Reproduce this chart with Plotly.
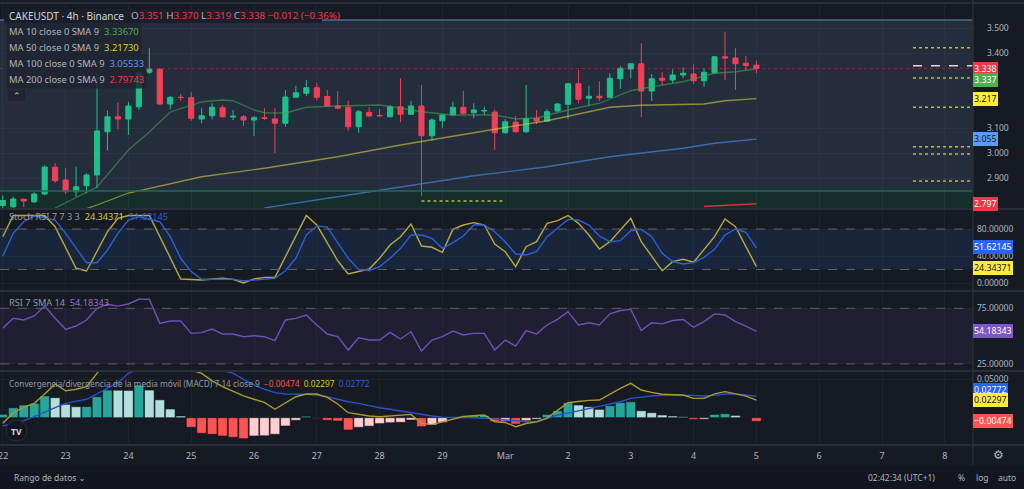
import pandas as pd
import plotly.graph_objects as go
from plotly.subplots import make_subplots

W, H = 1024, 489
FONT = "Noto Sans, DejaVu Sans, sans-serif"

# ---------------- data ----------------
start_time = pd.Timestamp("2024-02-22 00:00")
n_candles = 73
candle_hours = 4

opens = [2.790, 2.785, 2.815, 2.805, 2.836, 2.943, 2.892, 2.845, 2.869, 2.912,
         3.085, 3.145, 3.136, 3.185, 3.323, 3.335, 3.196, 3.223, 3.221, 3.136,
         3.149, 3.181, 3.144, 3.145, 3.132, 3.141, 3.136, 3.119, 3.223, 3.239,
         3.261, 3.226, 3.188, 3.183, 3.105, 3.163, 3.150, 3.145, 3.185, 3.155,
         3.188, 3.069, 3.129, 3.152, 3.183, 3.161, 3.168, 3.164, 3.081, 3.124,
         3.085, 3.139, 3.128, 3.168, 3.195, 3.277, 3.219, 3.227, 3.223, 3.297,
         3.336, 3.357, 3.248, 3.299, 3.292, 3.312, 3.316, 3.289, 3.321, 3.385,
         3.380, 3.359, 3.351]
highs = [2.830, 2.825, 2.818, 2.843, 2.951, 2.959, 2.939, 2.945, 2.919, 3.319,
         3.169, 3.201, 3.205, 3.332, 3.421, 3.340, 3.228, 3.236, 3.245, 3.179,
         3.199, 3.192, 3.172, 3.152, 3.148, 3.179, 3.179, 3.252, 3.269, 3.292,
         3.281, 3.252, 3.248, 3.209, 3.172, 3.183, 3.175, 3.192, 3.299, 3.209,
         3.272, 3.139, 3.156, 3.205, 3.249, 3.199, 3.185, 3.175, 3.136, 3.149,
         3.272, 3.172, 3.175, 3.199, 3.280, 3.332, 3.269, 3.288, 3.319, 3.348,
         3.360, 3.439, 3.316, 3.323, 3.335, 3.343, 3.355, 3.339, 3.387, 3.485,
         3.419, 3.388, 3.370]
lows = [2.780, 2.780, 2.784, 2.800, 2.830, 2.881, 2.836, 2.825, 2.839, 2.859,
        3.009, 3.095, 3.072, 3.172, 3.316, 3.192, 3.175, 3.209, 3.129, 3.119,
        3.135, 3.142, 3.132, 3.108, 3.068, 3.132, 2.999, 3.105, 3.220, 3.228,
        3.212, 3.186, 3.175, 3.089, 3.081, 3.146, 3.145, 3.143, 3.123, 3.152,
        2.829, 3.049, 3.101, 3.150, 3.155, 3.139, 3.152, 3.012, 3.078, 3.082,
        3.081, 3.116, 3.125, 3.165, 3.135, 3.199, 3.188, 3.209, 3.220, 3.256,
        3.299, 3.143, 3.208, 3.272, 3.279, 3.299, 3.275, 3.265, 3.318, 3.292,
        3.252, 3.329, 3.319]
closes = [2.810, 2.816, 2.808, 2.836, 2.944, 2.889, 2.845, 2.865, 2.912, 3.088,
          3.145, 3.136, 3.188, 3.323, 3.335, 3.196, 3.223, 3.222, 3.139, 3.149,
          3.183, 3.145, 3.147, 3.132, 3.141, 3.138, 3.119, 3.224, 3.241, 3.261,
          3.223, 3.188, 3.179, 3.105, 3.165, 3.148, 3.149, 3.185, 3.155, 3.188,
          3.069, 3.132, 3.152, 3.183, 3.159, 3.172, 3.170, 3.081, 3.125, 3.085,
          3.137, 3.128, 3.165, 3.196, 3.277, 3.215, 3.227, 3.221, 3.299, 3.339,
          3.357, 3.248, 3.297, 3.291, 3.312, 3.319, 3.289, 3.323, 3.385, 3.380,
          3.357, 3.350, 3.338]

ma10_idx = [5, 9, 12, 14, 16, 19, 21, 22, 24, 25, 27, 29, 32, 36, 38, 40, 43, 47,
            49, 51, 54, 57, 60, 62, 65, 68, 70, 72]
ma10_val = [2.780, 2.864, 3.012, 3.084, 3.164, 3.204, 3.212, 3.209, 3.172, 3.161,
            3.160, 3.183, 3.188, 3.192, 3.180, 3.165, 3.152, 3.152, 3.136, 3.140,
            3.172, 3.199, 3.249, 3.265, 3.285, 3.319, 3.325, 3.33670]
ma50_idx = [8, 9, 12, 19, 25, 32, 38, 44, 47, 52, 55, 58, 61, 67, 69, 72]
ma50_val = [2.778, 2.792, 2.840, 2.905, 2.939, 2.985, 3.032, 3.072, 3.095, 3.129,
            3.156, 3.183, 3.191, 3.196, 3.209, 3.21730]
ma100_idx = [25, 32, 38, 45, 52, 58, 65, 68, 72]
ma100_val = [2.780, 2.825, 2.865, 2.909, 2.945, 2.985, 3.019, 3.039, 3.05533]
ma200_idx = [67, 72]
ma200_val = [2.786, 2.79743]

stoch_k_idx = [0, 1, 4, 5, 7, 8, 10, 11, 12, 14, 17, 19, 21, 22, 23, 24, 25, 26,
               29, 30, 32, 33, 35, 36, 37, 38, 39, 40, 41, 42, 43, 44, 45, 46, 47,
               48, 49, 50, 51, 52, 53, 54, 55, 56, 57, 58, 60, 61, 63, 64, 65, 66,
               68, 69, 70, 72]
stoch_k_val = [68.6, 100, 100, 83.4, 21.8, 17.8, 76.0, 95.8, 100, 100, 6.0, 4.4,
               7.0, 5.4, 0.0, 6.0, 8.4, 8.4, 100, 85.9, 33.0, 13.3, 20.7, 36.6,
               56.3, 68.6, 87.4, 54.8, 52.9, 45.5, 79.5, 85.9, 89.4, 85.9, 57.8,
               46.4, 24.2, 53.8, 61.2, 88.4, 92.3, 100, 88.4, 71.1, 50.4, 61.2,
               95.8, 61.2, 18.2, 31.6, 35.1, 30.7, 68.6, 94.8, 83.4, 24.34371]
stoch_d_idx = [0, 1, 2, 3, 5, 6, 8, 9, 10, 11, 12, 13, 15, 16, 17, 18, 19, 22, 23,
               25, 26, 27, 28, 29, 30, 31, 33, 34, 35, 36, 37, 38, 39, 40, 41, 42,
               43, 44, 45, 46, 47, 48, 49, 50, 51, 52, 53, 54, 55, 56, 57, 58, 59,
               60, 61, 62, 63, 64, 65, 66, 67, 68, 69, 70, 71, 72]
stoch_d_val = [40.0, 73.6, 90.8, 99.3, 93.3, 73.6, 30.1, 30.1, 48.9, 73.6, 93.3,
               98.0, 90.8, 68.6, 36.6, 16.9, 5.5, 5.5, 3.0, 6.0, 7.0, 18.2, 36.6,
               71.1, 84.4, 82.9, 36.6, 20.2, 18.2, 24.2, 36.6, 51.4, 71.1, 71.1,
               66.2, 51.4, 59.7, 69.6, 85.9, 85.9, 76.0, 61.2, 43.0, 41.5, 46.4,
               68.6, 81.0, 94.3, 93.3, 85.9, 69.6, 61.2, 62.7, 77.5, 79.5, 68.6,
               44.0, 31.6, 28.1, 30.1, 38.0, 49.9, 71.1, 80.0, 75.1, 51.62145]

rsi_val = [57.0, 66.0, 64.5, 68.1, 77.0, 66.0, 56.1, 59.1, 64.5, 75.0,
           78.6, 77.0, 78.9, 83.1, 83.1, 61.5, 63.6, 63.6, 52.5, 53.1,
           56.4, 51.9, 51.9, 49.5, 50.4, 49.5, 45.9, 64.5, 66.0, 69.0,
           60.0, 51.9, 49.5, 37.5, 48.6, 46.5, 46.5, 53.4, 47.4, 54.0,
           36.6, 46.5, 49.5, 54.6, 51.0, 52.5, 52.5, 37.5, 46.5, 41.1,
           55.0, 52.0, 60.0, 65.0, 72.0, 60.0, 62.0, 60.0, 70.0, 73.0,
           74.0, 55.0, 62.0, 61.0, 64.0, 65.0, 58.0, 63.0, 70.0, 69.0,
           63.0, 59.0, 54.18343]

macd_val = [-0.0073, 0.0065, 0.0135, 0.0187, 0.0309, 0.0439, 0.0350, 0.0370, 0.0404, 0.0580,
            0.0750, 0.0810, 0.0930, 0.1050, 0.1040, 0.0940, 0.0830, 0.0780, 0.0620, 0.0578,
            0.0480, 0.0404, 0.0339, 0.0283, 0.0240, 0.0200, 0.0110, 0.0187, 0.0273, 0.0309,
            0.0309, 0.0265, 0.0178, 0.0065, 0.0044, 0.0022, 0.0013, 0.0026, 0.0035, 0.0043,
            -0.0073, -0.0090, -0.0055, -0.0020, 0.0015, 0.0026, 0.0035, -0.0052, -0.0062, -0.0117,
            -0.0075, -0.0055, -0.0005, 0.0095, 0.0195, 0.0210, 0.0225, 0.0230, 0.0310, 0.0383,
            0.0448, 0.0360, 0.0330, 0.0305, 0.0300, 0.0296, 0.0252, 0.0252, 0.0310, 0.0339,
            0.0310, 0.0280, 0.02297]
signal_val = [-0.0108, -0.0070, -0.0040, 0.0015, 0.0078, 0.0130, 0.0187, 0.0210, 0.0240, 0.0309,
              0.0383, 0.0456, 0.0578, 0.0630, 0.0680, 0.0710, 0.0720, 0.0720, 0.0700, 0.0670,
              0.0640, 0.0610, 0.0580, 0.0500, 0.0426, 0.0370, 0.0326, 0.0309, 0.0309, 0.0305,
              0.0296, 0.0273, 0.0240, 0.0208, 0.0187, 0.0156, 0.0130, 0.0110, 0.0087, 0.0065,
              0.0045, 0.0022, 0.0005, 0.0005, 0.0003, 0.0000, -0.0008, -0.0015, -0.0030, -0.0040,
              -0.0052, -0.0052, -0.0008, 0.0035, 0.0060, 0.0091, 0.0120, 0.0143, 0.0175, 0.0208,
              0.0252, 0.0270, 0.0283, 0.0290, 0.0293, 0.0296, 0.0290, 0.0283, 0.0290, 0.0309,
              0.0309, 0.0295, 0.02772]
hist_val = [0.0044, 0.0130, 0.0165, 0.0187, 0.0283, 0.0260, 0.0174, 0.0143, 0.0145, 0.0273,
            0.0360, 0.0358, 0.0355, 0.0425, 0.0360, 0.0233, 0.0113, 0.0022, -0.0125, -0.0203,
            -0.0216, -0.0238, -0.0255, -0.0273, -0.0238, -0.0235, -0.0216, -0.0108, -0.0034, 0.0020,
            -0.0009, -0.0034, -0.0043, -0.0160, -0.0125, -0.0110, -0.0077, -0.0065, -0.0060, -0.0030,
            -0.0117, -0.0095, -0.0060, -0.0005, 0.0013, 0.0026, 0.0030, -0.0052, -0.0048, -0.0082,
            -0.0039, -0.0020, 0.0043, 0.0090, 0.0195, 0.0165, 0.0143, 0.0109, 0.0156, 0.0195,
            0.0208, 0.0090, 0.0065, 0.0035, 0.0022, 0.0013, -0.0022, -0.0020, 0.0043, 0.0052,
            0.0030, -0.0005, -0.00474]

day_labels = ["22", "23", "24", "25", "26", "27", "28", "29", "Mar", "2", "3", "4", "5", "6", "7", "8"]
price_ticks = [2.9, 3.0, 3.1, 3.4, 3.5]
stoch_ticks = [0, 40, 80]
rsi_ticks = [25, 75]
macd_ticks = [0.05]
stoch_bands = [20, 80]
rsi_bands = [25, 75]

box_top = 3.532
box_split = 2.848
right_levels = [3.421, 3.300, 3.183, 3.025, 2.996, 2.888]
white_level = 3.349
low_level = 2.808
low_level_span = [40, 48]

# ---------------- helpers ----------------
times = [start_time + pd.Timedelta(hours=candle_hours * i) for i in range(n_candles)]
day_dates = [start_time + pd.Timedelta(days=d) for d in range(len(day_labels))]
day_px = 62.8
x0_px = 2.8
plot_right = 973
x_left = start_time - pd.Timedelta(days=x0_px / day_px)
x_right = start_time + pd.Timedelta(days=(plot_right - x0_px) / day_px)

def px(x):
    return x / W

def py(y):
    return 1 - y / H

UP, DOWN = "#1fbf8a", "#f23f58"

fig = make_subplots(rows=4, cols=1, shared_xaxes=True, vertical_spacing=0.01)

fig.add_trace(go.Candlestick(
    x=times, open=opens, high=highs, low=lows, close=closes,
    increasing=dict(line=dict(color=UP, width=1), fillcolor=UP),
    decreasing=dict(line=dict(color=DOWN, width=1), fillcolor=DOWN),
    whiskerwidth=0, hoverinfo="skip"), row=1, col=1)

def line(idx, vals, color, width, row):
    fig.add_trace(go.Scatter(x=[times[i] for i in idx], y=vals, mode="lines",
                             line=dict(color=color, width=width), hoverinfo="skip"),
                  row=row, col=1)

line(ma10_idx, ma10_val, "rgba(70,160,80,0.6)", 1.3, 1)
line(ma50_idx, ma50_val, "rgba(220,205,60,0.6)", 1.3, 1)
line(ma100_idx, ma100_val, "rgba(80,130,215,0.7)", 1.3, 1)
line(ma200_idx, ma200_val, "#d8303f", 1.5, 1)

line(stoch_k_idx, stoch_k_val, "#b9aa3e", 1.4, 2)
line(stoch_d_idx, stoch_d_val, "#2f5fd6", 1.4, 2)

line(list(range(n_candles)), rsi_val, "#6e50b8", 1.4, 3)

hist_colors = []
for i, v in enumerate(hist_val):
    prev = hist_val[i - 1] if i > 0 else v - 1
    if v >= 0:
        hist_colors.append("#26a69a" if v > prev else "#b2dfdb")
    else:
        hist_colors.append("#ffcdd2" if v > prev else "#ff5252")
fig.add_trace(go.Bar(x=times, y=hist_val, marker=dict(color=hist_colors,
                     line=dict(color="rgba(10,12,18,0.55)", width=1)),
                     width=candle_hours * 3600 * 1000 * 0.92, hoverinfo="skip"), row=4, col=1)
line(list(range(n_candles)), signal_val, "#2b50c8", 1.4, 4)
line(list(range(n_candles)), macd_val, "#ab9a30", 1.4, 4)

# ---------------- layout ----------------
BG = "#161a23"
GRID = "rgba(255,255,255,0.035)"
TICKC = "#b2b5be"
domains = [(4, 208), (210, 290), (292, 370), (372, 445)]
ranges = [[2.780, 3.596], [-10.37, 108.15], [19.56, 89.65], [-0.03555, 0.0595]]
tickv = [price_ticks, stoch_ticks, rsi_ticks, macd_ticks]
tickf = [".3f", ".5f", ".5f", ".5f"]
standoff = [13, 3, 3, 3]

layout = dict(width=W, height=H, margin=dict(l=0, r=0, t=0, b=0),
              paper_bgcolor=BG, plot_bgcolor=BG, showlegend=False,
              font=dict(family=FONT, color=TICKC), bargap=0)
for k in range(4):
    xa = "xaxis" if k == 0 else f"xaxis{k+1}"
    ya = "yaxis" if k == 0 else f"yaxis{k+1}"
    layout[xa] = dict(domain=[0, px(plot_right)], range=[x_left, x_right], type="date",
                      tickvals=day_dates, ticktext=day_labels, showgrid=True, gridcolor=GRID,
                      zeroline=False, showline=False, ticks="", ticklabelstandoff=4,
                      showticklabels=(k == 3), tickfont=dict(size=9, color=TICKC, family=FONT),
                      rangeslider=dict(visible=False), fixedrange=True)
    y0, y1 = domains[k]
    layout[ya] = dict(domain=[py(y1), py(y0)], range=ranges[k], side="right",
                      tickvals=tickv[k], tickformat=tickf[k], showgrid=True, gridcolor=GRID,
                      zeroline=False, showline=False, ticks="",
                      ticklabelstandoff=standoff[k],
                      tickfont=dict(size=8.5, color=TICKC, family=FONT), fixedrange=True)
fig.update_layout(**layout)

shapes = []
# main pane boxes
shapes.append(dict(type="rect", xref="x domain", yref="y", x0=0, x1=1, y0=box_split, y1=box_top,
                   fillcolor="#232d3c", line=dict(width=0), layer="below"))
shapes.append(dict(type="rect", xref="x domain", yref="y", x0=0, x1=1, y0=ranges[0][0], y1=box_split,
                   fillcolor="#162e2b", line=dict(width=0), layer="below"))
shapes.append(dict(type="line", xref="x domain", yref="y", x0=0, x1=1, y0=box_top, y1=box_top,
                   line=dict(color="#4e6b8a", width=1.5)))
shapes.append(dict(type="line", xref="x domain", yref="y", x0=0, x1=1, y0=box_split, y1=box_split,
                   line=dict(color="#1f6a5a", width=1.5)))
# price line
shapes.append(dict(type="line", xref="x domain", yref="y", x0=0, x1=1, y0=closes[-1], y1=closes[-1],
                   line=dict(color="rgba(242,54,69,0.5)", width=0.8, dash="dot")))
for lv in right_levels:
    shapes.append(dict(type="line", xref="x domain", yref="y", x0=913 / plot_right, x1=1, y0=lv, y1=lv,
                       line=dict(color="#c2b93c", width=1.5, dash="dot")))
shapes.append(dict(type="line", xref="x domain", yref="y", x0=913 / plot_right, x1=1,
                   y0=white_level, y1=white_level, line=dict(color="#d8dbe2", width=1.5, dash="dash")))
shapes.append(dict(type="line", xref="x", yref="y", x0=times[low_level_span[0]], x1=times[low_level_span[1]],
                   y0=low_level, y1=low_level, line=dict(color="#c2b93c", width=1.5, dash="dot")))
# oscillator bands
shapes.append(dict(type="rect", xref="x2 domain", yref="y2", x0=0, x1=1, y0=stoch_bands[0], y1=stoch_bands[1],
                   fillcolor="#18253a", line=dict(width=0), layer="below"))
shapes.append(dict(type="rect", xref="x3 domain", yref="y3", x0=0, x1=1, y0=rsi_bands[0], y1=rsi_bands[1],
                   fillcolor="#201e31", line=dict(width=0), layer="below"))
for b in stoch_bands:
    shapes.append(dict(type="line", xref="x2 domain", yref="y2", x0=0, x1=1, y0=b, y1=b,
                       line=dict(color="#5d606b", width=1, dash="dash")))
for b in rsi_bands:
    shapes.append(dict(type="line", xref="x3 domain", yref="y3", x0=0, x1=1, y0=b, y1=b,
                       line=dict(color="#5d606b", width=1, dash="dash")))
# separators
SEP = "#2a2e39"
for ys in [3, 209, 291, 371, 445]:
    shapes.append(dict(type="line", xref="paper", yref="paper", x0=0, x1=1, y0=py(ys), y1=py(ys),
                       line=dict(color=SEP, width=2)))
shapes.append(dict(type="line", xref="paper", yref="paper", x0=px(plot_right), x1=px(plot_right),
                   y0=py(465), y1=1, line=dict(color=SEP, width=1.5)))
shapes.append(dict(type="rect", xref="paper", yref="paper", x0=0, x1=1, y0=0, y1=py(466),
                   fillcolor="#13161e", line=dict(width=0)))
# header bg
shapes.append(dict(type="rect", xref="paper", yref="paper", x0=px(4), x1=px(322), y0=py(23), y1=py(9),
                   fillcolor="#1b1f29", line=dict(width=0)))
# button
shapes.append(dict(type="rect", xref="paper", yref="paper", x0=px(7), x1=px(26), y0=py(102), y1=py(89),
                   fillcolor="#1f2430", line=dict(color="#2e3340", width=1)))
# TV logo
shapes.append(dict(type="circle", xref="paper", yref="paper", x0=px(6), x1=px(27), y0=py(441), y1=py(420),
                   fillcolor="#131722", line=dict(color="#2a2e39", width=1)))
fig.update_layout(shapes=shapes)

ann = []

def txt(x, y, text, size, color=TICKC, **kw):
    d = dict(xref="paper", yref="paper", x=px(x), y=py(y), text=text, showarrow=False,
             xanchor="left", yanchor="middle", font=dict(size=size, color=color, family=FONT))
    d.update(kw)
    return d

def sp(color, s):
    return f'<span style="color:{color}">{s}</span>'

RED = "#f23645"
ann.append(txt(7, 16, "CAKEUSDT · 4h · Binance", 10, "#d1d4dc"))
chg = closes[-1] - closes[-2]
ohlc = (f"O{sp(RED, f'{opens[-1]:.3f}')} H{sp(RED, f'{highs[-1]:.3f}')} "
        f"L{sp(RED, f'{lows[-1]:.3f}')} C{sp(RED, f'{closes[-1]:.3f}')} "
        f"{sp(RED, f'−{abs(chg):.3f} (−{abs(chg) / closes[-2] * 100:.2f}%)')}")
ann.append(txt(129, 16, ohlc, 9.8, "#b2b5be"))

ma_specs = [("MA 10 close 0 SMA 9", ma10_val[-1], "#4caf50", 32),
            ("MA 50 close 0 SMA 9", ma50_val[-1], "#d9c93a", 47.5),
            ("MA 100 close 0 SMA 9", ma100_val[-1], "#5b9cf6", 63),
            ("MA 200 close 0 SMA 9", ma200_val[-1], "#f23645", 79)]
for name, v, c, y in ma_specs:
    ann.append(txt(6, y, f"{name}  {sp(c, f'{v:.5f}')}", 9.4, "#b2b5be",
                   bgcolor="rgba(31,36,48,0.85)", borderpad=2))
ann.append(txt(16.5, 96, "⌃", 9, "#d1d4dc", xanchor="center"))

ann.append(txt(7, 217, f"Stoch RSI 7 7 3 3  {sp('#d9c93a', f'{stoch_k_val[-1]:.5f}')}  "
               f"{sp('#2f5fd6', f'{stoch_d_val[-1]:.5f}')}", 9.2, "#9598a1"))
ann.append(txt(7, 302, f"RSI 7 SMA 14  {sp('#9575cd', f'{rsi_val[-1]:.5f}')}", 9.2, "#9598a1"))
ann.append(txt(7, 383, "Convergencia/divergencia de la media móvil (MACD) 7 14 close 9  "
               f"{sp('#ff5252', f'−{abs(hist_val[-1]):.5f}')}  {sp('#d9c93a', f'{macd_val[-1]:.5f}')}  "
               f"{sp('#2f5fd6', f'{signal_val[-1]:.5f}')}", 8.3, "#9598a1"))
ann.append(txt(16.5, 431, "<b>TV</b>", 8.5, "#d1d4dc", xanchor="center"))

def plabel(yref, val, text, bg, fg, yshift=0):
    return dict(xref="paper", yref=yref, x=px(plot_right), y=val, text=text, showarrow=False,
                xanchor="left", yanchor="middle", bgcolor=bg, borderpad=1, borderwidth=0,
                yshift=yshift, font=dict(size=8.8, color=fg, family=FONT))

ann.append(plabel("y", closes[-1], f"{closes[-1]:.3f}", "#f23645", "#ffffff"))
ann.append(plabel("y", ma10_val[-1], f"{ma10_val[-1]:.3f}", "#4caf50", "#ffffff", yshift=-11))
ann.append(plabel("y", ma50_val[-1], f"{ma50_val[-1]:.3f}", "#ffeb3b", "#131722"))
ann.append(plabel("y", ma100_val[-1], f"{ma100_val[-1]:.3f}", "#5b9cf6", "#131722"))
ann.append(plabel("y", ma200_val[-1], f"{ma200_val[-1]:.3f}", "#f23645", "#ffffff"))
ann.append(plabel("y2", stoch_d_val[-1], f"{stoch_d_val[-1]:.5f}", "#2962ff", "#ffffff", yshift=1))
ann.append(plabel("y2", stoch_k_val[-1], f"{stoch_k_val[-1]:.5f}", "#ffeb3b", "#131722", yshift=-1))
ann.append(plabel("y3", rsi_val[-1], f"{rsi_val[-1]:.5f}", "#7e57c2", "#ffffff"))
ann.append(plabel("y4", signal_val[-1], f"{signal_val[-1]:.5f}", "#2962ff", "#ffffff", yshift=6))
ann.append(plabel("y4", macd_val[-1], f"{macd_val[-1]:.5f}", "#ffeb3b", "#131722"))
ann.append(plabel("y4", hist_val[-1], f"−{abs(hist_val[-1]):.5f}", "#ff5252", "#ffffff"))

ann.append(txt(2.8, 455, day_labels[0], 9, TICKC, xanchor="center"))
ann.append(txt(998, 454, "⚙", 12, "#b2b5be", xanchor="center"))
ann.append(txt(12, 477, "Rango de datos ⌄", 8.5, "#b2b5be"))
ann.append(txt(937, 477, "02:42:34 (UTC+1)", 8.5, "#b2b5be", xanchor="right"))
ann.append(txt(961, 477, "%", 8.5, "#b2b5be", xanchor="center"))
ann.append(txt(982, 477, "log", 8.5, "#b2b5be", xanchor="center"))
ann.append(txt(1007, 477, "auto", 8.5, "#b2b5be", xanchor="center"))
fig.update_layout(annotations=ann)

fig.write_html("out.html", config={"displayModeBar": False, "staticPlot": True},
               post_script="document.body.style.margin='0';document.body.style.overflow='hidden';")
